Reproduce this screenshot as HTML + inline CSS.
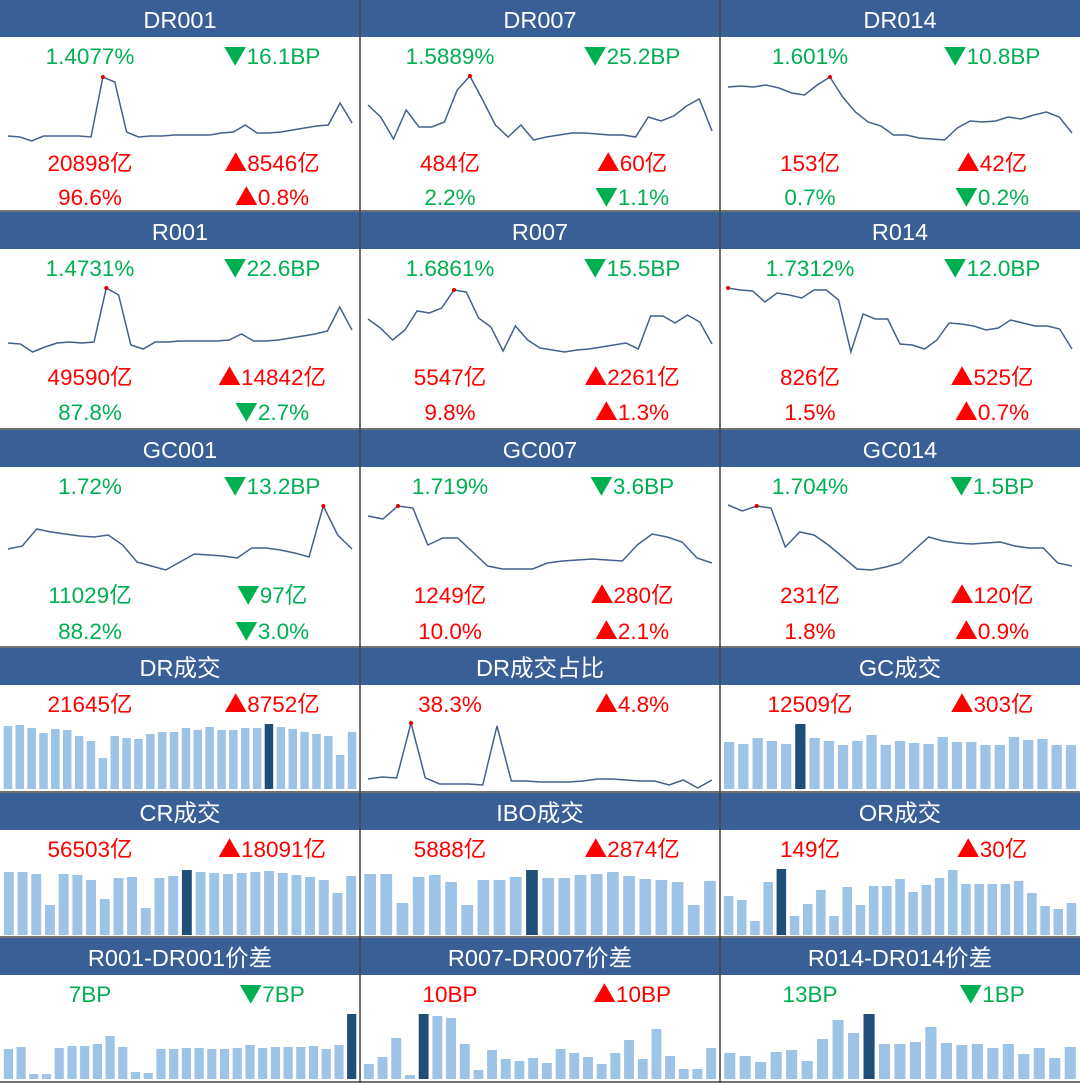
<!DOCTYPE html>
<html><head><meta charset="utf-8"><style>
body{margin:0;background:#fff}
svg{display:block}
text{font-family:"Liberation Sans","Noto Sans CJK SC",sans-serif;text-anchor:middle}
.h{fill:#fff;font-size:23.5px}
.g{fill:#00b050;font-size:22.5px}
.r{fill:#ff0000;font-size:22.5px}
.t{font-family:"Noto Sans CJK SC",sans-serif;font-size:23px}
</style></head><body>
<svg id="s" width="1080" height="1083" xmlns="http://www.w3.org/2000/svg">
<g fill="#386096">
<rect x="0" y="0" width="1080" height="37"/>
<rect x="0" y="212" width="1080" height="37"/>
<rect x="0" y="430" width="1080" height="37"/>
<rect x="0" y="648" width="1080" height="37"/>
<rect x="0" y="793" width="1080" height="37"/>
<rect x="0" y="938" width="1080" height="37"/>
</g>
<g id="charts"></g>
<g stroke="#444" stroke-width="1.5">
<line x1="360" y1="0" x2="360" y2="1083"/><line x1="720" y1="0" x2="720" y2="1083"/>
<line x1="0" y1="211" x2="1080" y2="211"/><line x1="0" y1="429" x2="1080" y2="429"/>
<line x1="0" y1="647" x2="1080" y2="647"/><line x1="0" y1="792" x2="1080" y2="792"/>
<line x1="0" y1="937" x2="1080" y2="937"/><line x1="0" y1="1082" x2="1080" y2="1082"/>
</g>
<text class="h" x="180" y="28">DR001</text><text class="h" x="540" y="28">DR007</text><text class="h" x="900" y="28">DR014</text>
<text class="h" x="180" y="240">R001</text><text class="h" x="540" y="240">R007</text><text class="h" x="900" y="240">R014</text>
<text class="h" x="180" y="458">GC001</text><text class="h" x="540" y="458">GC007</text><text class="h" x="900" y="458">GC014</text>
<text class="h" x="180" y="676">DR成交</text><text class="h" x="540" y="676">DR成交占比</text><text class="h" x="900" y="676">GC成交</text>
<text class="h" x="180" y="821">CR成交</text><text class="h" x="540" y="821">IBO成交</text><text class="h" x="900" y="821">OR成交</text>
<text class="h" x="180" y="966">R001-DR001价差</text><text class="h" x="540" y="966">R007-DR007价差</text><text class="h" x="900" y="966">R014-DR014价差</text>
<!-- row1 -->
<text class="g" x="90" y="64">1.4077%</text><text class="g" x="272" y="64"><tspan class="t">▼</tspan>16.1BP</text>
<text class="r" x="90" y="171">20898亿</text><text class="r" x="272" y="171"><tspan class="t">▲</tspan>8546亿</text>
<text class="r" x="90" y="205">96.6%</text><text class="r" x="272" y="205"><tspan class="t">▲</tspan>0.8%</text>
<text class="g" x="450" y="64">1.5889%</text><text class="g" x="632" y="64"><tspan class="t">▼</tspan>25.2BP</text>
<text class="r" x="450" y="171">484亿</text><text class="r" x="632" y="171"><tspan class="t">▲</tspan>60亿</text>
<text class="g" x="450" y="205">2.2%</text><text class="g" x="632" y="205"><tspan class="t">▼</tspan>1.1%</text>
<text class="g" x="810" y="64">1.601%</text><text class="g" x="992" y="64"><tspan class="t">▼</tspan>10.8BP</text>
<text class="r" x="810" y="171">153亿</text><text class="r" x="992" y="171"><tspan class="t">▲</tspan>42亿</text>
<text class="g" x="810" y="205">0.7%</text><text class="g" x="992" y="205"><tspan class="t">▼</tspan>0.2%</text>
<!-- row2 -->
<text class="g" x="90" y="276">1.4731%</text><text class="g" x="272" y="276"><tspan class="t">▼</tspan>22.6BP</text>
<text class="r" x="90" y="385">49590亿</text><text class="r" x="272" y="385"><tspan class="t">▲</tspan>14842亿</text>
<text class="g" x="90" y="420">87.8%</text><text class="g" x="272" y="420"><tspan class="t">▼</tspan>2.7%</text>
<text class="g" x="450" y="276">1.6861%</text><text class="g" x="632" y="276"><tspan class="t">▼</tspan>15.5BP</text>
<text class="r" x="450" y="385">5547亿</text><text class="r" x="632" y="385"><tspan class="t">▲</tspan>2261亿</text>
<text class="r" x="450" y="420">9.8%</text><text class="r" x="632" y="420"><tspan class="t">▲</tspan>1.3%</text>
<text class="g" x="810" y="276">1.7312%</text><text class="g" x="992" y="276"><tspan class="t">▼</tspan>12.0BP</text>
<text class="r" x="810" y="385">826亿</text><text class="r" x="992" y="385"><tspan class="t">▲</tspan>525亿</text>
<text class="r" x="810" y="420">1.5%</text><text class="r" x="992" y="420"><tspan class="t">▲</tspan>0.7%</text>
<!-- row3 -->
<text class="g" x="90" y="494">1.72%</text><text class="g" x="272" y="494"><tspan class="t">▼</tspan>13.2BP</text>
<text class="g" x="90" y="603">11029亿</text><text class="g" x="272" y="603"><tspan class="t">▼</tspan>97亿</text>
<text class="g" x="90" y="639">88.2%</text><text class="g" x="272" y="639"><tspan class="t">▼</tspan>3.0%</text>
<text class="g" x="450" y="494">1.719%</text><text class="g" x="632" y="494"><tspan class="t">▼</tspan>3.6BP</text>
<text class="r" x="450" y="603">1249亿</text><text class="r" x="632" y="603"><tspan class="t">▲</tspan>280亿</text>
<text class="r" x="450" y="639">10.0%</text><text class="r" x="632" y="639"><tspan class="t">▲</tspan>2.1%</text>
<text class="g" x="810" y="494">1.704%</text><text class="g" x="992" y="494"><tspan class="t">▼</tspan>1.5BP</text>
<text class="r" x="810" y="603">231亿</text><text class="r" x="992" y="603"><tspan class="t">▲</tspan>120亿</text>
<text class="r" x="810" y="639">1.8%</text><text class="r" x="992" y="639"><tspan class="t">▲</tspan>0.9%</text>
<!-- row4-6 -->
<text class="r" x="90" y="712">21645亿</text><text class="r" x="272" y="712"><tspan class="t">▲</tspan>8752亿</text>
<text class="r" x="450" y="712">38.3%</text><text class="r" x="632" y="712"><tspan class="t">▲</tspan>4.8%</text>
<text class="r" x="810" y="712">12509亿</text><text class="r" x="992" y="712"><tspan class="t">▲</tspan>303亿</text>
<text class="r" x="90" y="857">56503亿</text><text class="r" x="272" y="857"><tspan class="t">▲</tspan>18091亿</text>
<text class="r" x="450" y="857">5888亿</text><text class="r" x="632" y="857"><tspan class="t">▲</tspan>2874亿</text>
<text class="r" x="810" y="857">149亿</text><text class="r" x="992" y="857"><tspan class="t">▲</tspan>30亿</text>
<text class="g" x="90" y="1002">7BP</text><text class="g" x="272" y="1002"><tspan class="t">▼</tspan>7BP</text>
<text class="r" x="450" y="1002">10BP</text><text class="r" x="632" y="1002"><tspan class="t">▲</tspan>10BP</text>
<text class="g" x="810" y="1002">13BP</text><text class="g" x="992" y="1002"><tspan class="t">▼</tspan>1BP</text>
</svg>
<script>
var NS="http://www.w3.org/2000/svg",C=document.getElementById("charts");
function el(t,a){var e=document.createElementNS(NS,t);for(var k in a)e.setAttribute(k,a[k]);C.appendChild(e);return e;}
function line(x0,x1,ys,mark){var n=ys.length,p=[];for(var i=0;i<n;i++){var x=x0+(x1-x0)*i/(n-1);p.push(x.toFixed(1)+","+ys[i]);}
el("polyline",{points:p.join(" "),fill:"none",stroke:"#44618c","stroke-width":1.5});
var mx=x0+(x1-x0)*mark/(n-1);el("circle",{cx:mx,cy:ys[mark],r:2,fill:"#d00"});}
function bars(x0,x1,base,tops,dark){var n=tops.length,pitch=(x1-x0)/n,w=pitch*0.72;for(var i=0;i<n;i++){el("rect",{x:(x0+i*pitch+(pitch-w)/2).toFixed(1),y:tops[i],width:w.toFixed(1),height:base-tops[i],fill:i==dark?"#1f4e79":"#9dc3e6"});}}
line(8,352,[136,137,141,136,136,136,136,137,77,82,132,137,136,136,135,135,135,135,133,132,125,133,133,132,130,128,126,125,103,123],8);
line(368,712,[105,117,139,110,127,127,122,90,76,100,125,137,125,140,137,135,133,133,134,135,135,137,117,121,116,106,99,131],8);
line(728,1072,[87,86,87,85,88,93,95,85,77,97,112,122,126,135,135,138,139,140,128,121,122,121,117,119,115,112,117,133],8);
line(8,352,[343,344,352,347,343,342,343,342,288,295,345,349,342,342,341,341,341,341,340,334,341,341,340,338,336,334,331,307,330],8);
line(368,712,[319,328,340,330,311,313,308,290,292,318,327,351,326,340,348,350,352,350,349,347,345,343,349,316,316,323,315,322,344],7);
line(728,1072,[288,290,291,302,293,295,298,290,290,300,352,314,319,319,344,345,349,340,323,324,326,330,328,320,323,326,326,329,349],0);
line(8,352,[549,546,529,532,534,536,537,535,545,562,566,570,562,554,555,556,558,548,548,550,553,557,506,535,549],22);
line(368,712,[516,519,506,508,545,538,538,552,566,569,569,569,563,561,560,559,560,561,545,534,537,542,558,563],2);
line(728,1072,[505,511,506,508,547,532,535,545,557,569,570,567,563,550,537,541,543,544,543,542,546,548,548,563,566],2);
line(368,712,[779,777,778,723,778,784,784,784,785,726,781,781,782,782,782,781,779,779,780,781,781,785,780,788,780],3);
bars(2,358,789,[726,725,728,733,729,730,736,741,758,736,738,739,734,732,732,728,730,727,730,730,728,728,724,727,729,732,734,736,755,732],22);
bars(722,1078,789,[742,744,738,741,744,724,738,741,745,741,735,745,741,743,744,737,742,742,745,745,737,740,739,745,745],5);
bars(2,358,935,[872,872,874,905,874,875,880,899,878,877,908,878,876,870,872,873,874,873,872,871,873,875,877,880,893,876],13);
bars(362,718,935,[874,874,903,877,875,882,905,880,880,877,870,878,878,875,874,872,876,879,880,882,905,881],10);
bars(722,1078,935,[896,900,921,882,869,916,904,890,916,887,905,886,886,879,892,885,878,870,884,884,884,884,881,893,906,909,903],4);
bars(2,358,1079,[1049,1047,1074,1074,1048,1046,1046,1044,1036,1047,1072,1073,1049,1049,1048,1048,1049,1049,1048,1045,1048,1047,1047,1047,1046,1049,1045,1014],27);
bars(362,718,1079,[1064,1057,1038,1075,1014,1016,1018,1044,1070,1050,1059,1061,1058,1063,1049,1053,1057,1064,1053,1040,1059,1029,1056,1069,1069,1048],4);
bars(722,1078,1079,[1053,1056,1062,1052,1050,1061,1039,1020,1033,1014,1044,1044,1042,1027,1043,1045,1044,1048,1044,1054,1048,1058,1047],9);
</script>
</body></html>
